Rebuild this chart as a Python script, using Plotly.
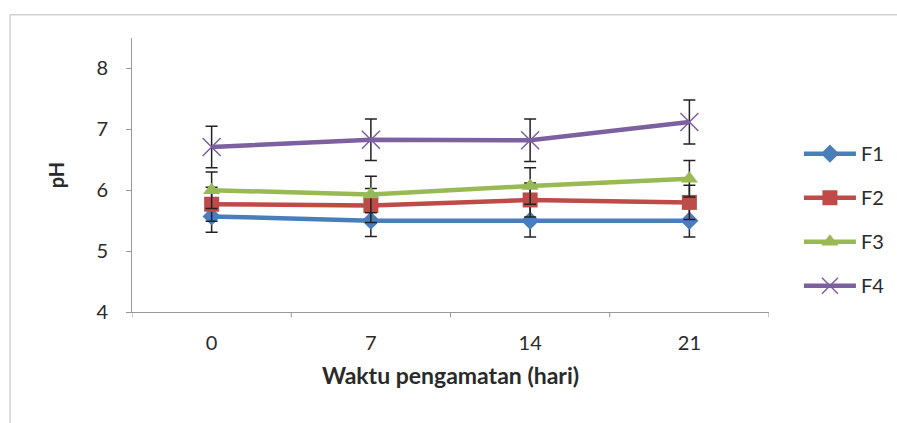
import plotly.graph_objects as go

categories = ["0", "7", "14", "21"]
series_names = ["F1", "F2", "F3", "F4"]
f1 = [5.57, 5.50, 5.50, 5.50]
f2 = [5.77, 5.75, 5.84, 5.80]
f3 = [6.00, 5.93, 6.07, 6.19]
f4 = [6.71, 6.83, 6.82, 7.12]
f1_err = [0.26, 0.26, 0.27, 0.27]
f2_err = [0.28, 0.28, 0.28, 0.28]
f3_err = [0.30, 0.30, 0.30, 0.30]
f4_err = [0.34, 0.34, 0.35, 0.36]
y_ticks = [4, 5, 6, 7, 8]

values = [f1, f2, f3, f4]
errors = [f1_err, f2_err, f3_err, f4_err]
colors = ["#4A7EBB", "#BE4B48", "#98B954", "#7D60A0"]
symbols = ["diamond", "square", "triangle-up", "x-thin-open"]
sizes = [14, 15, 15, 18]

fig = go.Figure()
for i in range(4):
    mk = dict(symbol=symbols[i], size=sizes[i], color=colors[i])
    if symbols[i] == "x-thin-open":
        mk["line"] = dict(color=colors[i], width=1.5)
    fig.add_trace(go.Scatter(
        x=list(range(len(categories))), y=values[i], name=series_names[i],
        mode="lines+markers", legendgroup=series_names[i],
        line=dict(color=colors[i], width=4.5),
        marker=mk,
        error_y=dict(type="data", array=errors[i], visible=True,
                     color="#222222", thickness=1.5, width=6),
    ))

font_family = "Lato, 'Open Sans', sans-serif"
fig.update_layout(
    width=897, height=423,
    margin=dict(l=132, r=128, t=38, b=111, autoexpand=False),
    paper_bgcolor="white", plot_bgcolor="white",
    font=dict(family=font_family, size=20, color="#2a2a2a"),
    showlegend=True,
    legend=dict(x=1.047, y=0.649, xanchor="left", yanchor="top",
                font=dict(size=20, color="#2a2a2a"),
                tracegroupgap=15, itemwidth=52,
                bgcolor="rgba(0,0,0,0)"),
    xaxis=dict(
        range=[-0.5, 3.5], tickmode="array",
        tickvals=list(range(len(categories))), ticktext=categories,
        showline=True, linecolor="#999999", linewidth=1,
        showgrid=False, zeroline=False, ticks="",
        ticklabelstandoff=13,
        title=dict(text="<b>Waktu pengamatan (hari)</b>", standoff=14,
                   font=dict(size=23)),
    ),
    yaxis=dict(
        range=[4, 8.5], tickmode="array", tickvals=y_ticks,
        ticktext=[str(t) for t in y_ticks],
        showline=True, linecolor="#999999", linewidth=1,
        showgrid=False, zeroline=False, ticks="outside", ticklen=5,
        tickcolor="#999999", ticklabelstandoff=14,
        title=dict(text="<b>pH</b>", standoff=26, font=dict(size=20)),
    ),
)

# boundary tick marks on the category axis
for b in [-0.5, 0.5, 1.5, 2.5, 3.5]:
    fig.add_shape(type="line", xref="x", yref="paper", x0=b, x1=b, y0=0, y1=-0.02,
                  line=dict(color="#999999", width=1))

# outer chart frame
fig.add_shape(type="rect", xref="paper", yref="paper",
              x0=-0.1915, x1=1.3, y0=-0.5, y1=1.0846,
              line=dict(color="#BBBBBB", width=1), layer="below")

fig.write_html("out.html", config={"displayModeBar": False},
               post_script="document.body.style.margin='0';")
